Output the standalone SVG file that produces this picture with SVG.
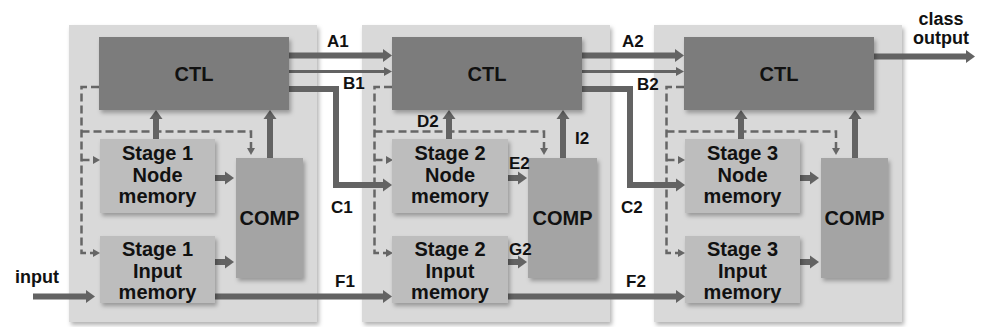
<svg xmlns="http://www.w3.org/2000/svg" width="981" height="327" viewBox="0 0 981 327">
<defs>
<style>
.panel{fill:#d9d9d9;filter:url(#sh)}
.ctl{fill:#7b7b7b;filter:url(#sh)}
.mem{fill:#bdbdbd;filter:url(#sh)}
.comp{fill:#a4a4a4;filter:url(#sh)}
.t{font-family:"Liberation Sans",Arial,sans-serif;font-weight:bold;font-size:20px;fill:#111;text-anchor:middle}
.lb{font-family:"Liberation Sans",Arial,sans-serif;font-weight:bold;font-size:17px;fill:#111}
.th{fill:none;stroke:#636363;stroke-width:6;marker-end:url(#ah)}
.tn{fill:none;stroke:#636363;stroke-width:3;marker-end:url(#an)}
.ds{fill:none;stroke:#666;stroke-width:2.5;stroke-dasharray:8 4;marker-end:url(#ad)}
</style>
<filter id="sh" x="-10%" y="-10%" width="130%" height="130%">
<feDropShadow dx="2" dy="3" stdDeviation="2" flood-color="#000" flood-opacity="0.3"/>
</filter>
<marker id="ah" markerUnits="userSpaceOnUse" markerWidth="9" markerHeight="13" refX="0" refY="6.5" orient="auto" overflow="visible">
<path d="M0,0 L9,6.5 L0,13 z" fill="#636363"/>
</marker>
<marker id="an" markerUnits="userSpaceOnUse" markerWidth="8" markerHeight="9" refX="0" refY="4.5" orient="auto" overflow="visible">
<path d="M0,0 L8,4.5 L0,9 z" fill="#636363"/>
</marker>
<marker id="ad" markerUnits="userSpaceOnUse" markerWidth="7" markerHeight="8" refX="0" refY="4" orient="auto" overflow="visible">
<path d="M0,0 L7,4 L0,8 z" fill="#666"/>
</marker>
</defs>
<rect width="981" height="327" fill="#fff"/>
<g id="panels">
<rect id="panel1" class="panel" x="69" y="25" width="248" height="297"/>
<rect id="panel2" class="panel" x="362" y="25" width="248" height="297"/>
<rect id="panel3" class="panel" x="654" y="25" width="248" height="297"/>
</g>
<g id="connectors">
<path class="ds" d="M99,87 H81.5 V253 H93"/>
<path class="ds" d="M81.5,131.5 H251 V148"/>
<path class="ds" d="M81.5,160 H93"/>
<path class="th" d="M156,139 V119"/>
<path class="th" d="M270,158 V119"/>
<path class="th" d="M215,178 H225"/>
<path class="th" d="M215,262 H225"/>
<path class="ds" d="M392,87 H374.5 V253 H386"/>
<path class="ds" d="M374.5,131.5 H544 V148"/>
<path class="ds" d="M374.5,160 H386"/>
<path class="th" d="M449,139 V119"/>
<path class="th" d="M563,158 V119"/>
<path class="th" d="M508,178 H518"/>
<path class="th" d="M508,262 H518"/>
<path class="ds" d="M684,87 H666.5 V253 H678"/>
<path class="ds" d="M666.5,131.5 H836 V148"/>
<path class="ds" d="M666.5,160 H678"/>
<path class="th" d="M741,139 V119"/>
<path class="th" d="M855,158 V119"/>
<path class="th" d="M800,178 H810"/>
<path class="th" d="M800,262 H810"/>
<path class="th" d="M33,296.5 H86"/>
<path class="th" d="M289,55.5 H383"/>
<path class="tn" d="M289,71.5 H384"/>
<path class="th" d="M289,89 H336 V185 H383"/>
<path class="th" d="M215,296.5 H383"/>
<path class="th" d="M582,55.5 H675"/>
<path class="tn" d="M582,71.5 H676"/>
<path class="th" d="M582,89 H630 V185 H676"/>
<path class="th" d="M508,296.5 H676"/>
<path class="th" d="M874,56.5 H966"/>
</g>
<g id="ctl1"><rect class="ctl" x="99" y="37" width="190" height="73"/><text class="t" x="194" y="81">CTL</text></g>
<g id="node1"><rect class="mem" x="100" y="139" width="115" height="74"/><text class="t" x="157.5" y="160">Stage 1</text><text class="t" x="157.5" y="182">Node</text><text class="t" x="157.5" y="203">memory</text></g>
<g id="input1"><rect class="mem" x="100" y="236" width="115" height="67"/><text class="t" x="157.5" y="256">Stage 1</text><text class="t" x="157.5" y="278">Input</text><text class="t" x="157.5" y="299">memory</text></g>
<g id="comp1"><rect class="comp" x="236" y="158" width="67" height="120"/><text class="t" x="269.5" y="225">COMP</text></g>
<g id="ctl2"><rect class="ctl" x="392" y="37" width="190" height="73"/><text class="t" x="487" y="81">CTL</text></g>
<g id="node2"><rect class="mem" x="392" y="139" width="116" height="74"/><text class="t" x="450" y="160">Stage 2</text><text class="t" x="450" y="182">Node</text><text class="t" x="450" y="203">memory</text></g>
<g id="input2"><rect class="mem" x="392" y="236" width="116" height="67"/><text class="t" x="450" y="256">Stage 2</text><text class="t" x="450" y="278">Input</text><text class="t" x="450" y="299">memory</text></g>
<g id="comp2"><rect class="comp" x="528" y="158" width="69" height="120"/><text class="t" x="562.5" y="225">COMP</text></g>
<g id="ctl3"><rect class="ctl" x="684" y="37" width="190" height="73"/><text class="t" x="779" y="81">CTL</text></g>
<g id="node3"><rect class="mem" x="685" y="139" width="115" height="74"/><text class="t" x="742.5" y="160">Stage 3</text><text class="t" x="742.5" y="182">Node</text><text class="t" x="742.5" y="203">memory</text></g>
<g id="input3"><rect class="mem" x="685" y="236" width="115" height="67"/><text class="t" x="742.5" y="256">Stage 3</text><text class="t" x="742.5" y="278">Input</text><text class="t" x="742.5" y="299">memory</text></g>
<g id="comp3"><rect class="comp" x="821" y="158" width="67" height="120"/><text class="t" x="854.5" y="225">COMP</text></g>
<g id="labels">
<text class="lb" x="327" y="47">A1</text>
<text class="lb" x="343" y="89">B1</text>
<text class="lb" x="331" y="213">C1</text>
<text class="lb" x="335" y="287">F1</text>
<text class="lb" x="417" y="127">D2</text>
<text class="lb" x="509" y="169">E2</text>
<text class="lb" x="509" y="255">G2</text>
<text class="lb" x="575" y="144">I2</text>
<text class="lb" x="622" y="47">A2</text>
<text class="lb" x="637" y="90">B2</text>
<text class="lb" x="621" y="213">C2</text>
<text class="lb" x="626" y="287">F2</text>
<text class="t" x="15" y="283" style="text-anchor:start;font-size:18px">input</text>
<text class="t" x="941" y="25" style="font-size:18px">class</text>
<text class="t" x="941" y="44" style="font-size:18px">output</text>
</g>
</svg>
